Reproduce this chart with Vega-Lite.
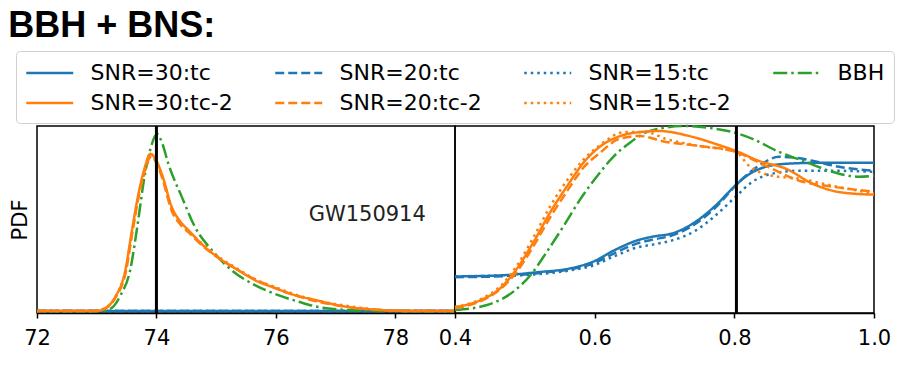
{
  "$schema": "https://vega.github.io/schema/vega-lite/v6.json",
  "padding": {"left": 8, "top": 7, "right": 5, "bottom": 5},
  "background": "white",
  "bounds": "flush",
  "title": {"text": "BBH + BNS:", "anchor": "start", "frame": "bounds", "font": "Liberation Sans", "fontSize": 36, "fontWeight": "bold", "color": "black", "offset": 6},
  "spacing": 0,
  "datasets": {
    "L": [
      {"s": "SNR=30:tc", "x": 72, "y": 0}, {"s": "SNR=30:tc", "x": 79, "y": 0},
      {"s": "SNR=20:tc", "x": 72, "y": 0}, {"s": "SNR=20:tc", "x": 79, "y": 0},
      {"s": "SNR=15:tc", "x": 72, "y": 0}, {"s": "SNR=15:tc", "x": 79, "y": 0},
      {"s": "BBH", "x": 72, "y": 0}, {"s": "BBH", "x": 73.1, "y": 0}, {"s": "BBH", "x": 73.25, "y": 3}, {"s": "BBH", "x": 73.4, "y": 16}, {"s": "BBH", "x": 73.56, "y": 41}, {"s": "BBH", "x": 73.68, "y": 85}, {"s": "BBH", "x": 73.8, "y": 135}, {"s": "BBH", "x": 73.9, "y": 163}, {"s": "BBH", "x": 74.01, "y": 178}, {"s": "BBH", "x": 74.1, "y": 168}, {"s": "BBH", "x": 74.2, "y": 148}, {"s": "BBH", "x": 74.43, "y": 114}, {"s": "BBH", "x": 74.65, "y": 84}, {"s": "BBH", "x": 74.93, "y": 61}, {"s": "BBH", "x": 75.26, "y": 41}, {"s": "BBH", "x": 75.65, "y": 26}, {"s": "BBH", "x": 76.04, "y": 16}, {"s": "BBH", "x": 76.4, "y": 9}, {"s": "BBH", "x": 76.71, "y": 4}, {"s": "BBH", "x": 77.2, "y": 1}, {"s": "BBH", "x": 77.6, "y": 0}, {"s": "BBH", "x": 79, "y": 0},
      {"s": "SNR=30:tc-2", "x": 72, "y": 0}, {"s": "SNR=30:tc-2", "x": 73.0, "y": 0}, {"s": "SNR=30:tc-2", "x": 73.15, "y": 3}, {"s": "SNR=30:tc-2", "x": 73.31, "y": 14}, {"s": "SNR=30:tc-2", "x": 73.48, "y": 41}, {"s": "SNR=30:tc-2", "x": 73.59, "y": 81}, {"s": "SNR=30:tc-2", "x": 73.7, "y": 118}, {"s": "SNR=30:tc-2", "x": 73.79, "y": 141}, {"s": "SNR=30:tc-2", "x": 73.9, "y": 158}, {"s": "SNR=30:tc-2", "x": 74.0, "y": 151}, {"s": "SNR=30:tc-2", "x": 74.1, "y": 136}, {"s": "SNR=30:tc-2", "x": 74.26, "y": 104}, {"s": "SNR=30:tc-2", "x": 74.4, "y": 90}, {"s": "SNR=30:tc-2", "x": 74.54, "y": 81}, {"s": "SNR=30:tc-2", "x": 74.82, "y": 64}, {"s": "SNR=30:tc-2", "x": 75.1, "y": 51}, {"s": "SNR=30:tc-2", "x": 75.37, "y": 41}, {"s": "SNR=30:tc-2", "x": 75.65, "y": 31}, {"s": "SNR=30:tc-2", "x": 75.99, "y": 23}, {"s": "SNR=30:tc-2", "x": 76.21, "y": 18}, {"s": "SNR=30:tc-2", "x": 76.66, "y": 11}, {"s": "SNR=30:tc-2", "x": 77.21, "y": 4}, {"s": "SNR=30:tc-2", "x": 77.77, "y": 1}, {"s": "SNR=30:tc-2", "x": 78.3, "y": 0}, {"s": "SNR=30:tc-2", "x": 79, "y": 0},
      {"s": "SNR=20:tc-2", "x": 72, "y": 0}, {"s": "SNR=20:tc-2", "x": 72.9, "y": 0}, {"s": "SNR=20:tc-2", "x": 73.12, "y": 2}, {"s": "SNR=20:tc-2", "x": 73.31, "y": 13}, {"s": "SNR=20:tc-2", "x": 73.49, "y": 40}, {"s": "SNR=20:tc-2", "x": 73.6, "y": 80}, {"s": "SNR=20:tc-2", "x": 73.71, "y": 117}, {"s": "SNR=20:tc-2", "x": 73.8, "y": 140}, {"s": "SNR=20:tc-2", "x": 73.91, "y": 155}, {"s": "SNR=20:tc-2", "x": 74.0, "y": 149}, {"s": "SNR=20:tc-2", "x": 74.1, "y": 133}, {"s": "SNR=20:tc-2", "x": 74.26, "y": 100}, {"s": "SNR=20:tc-2", "x": 74.4, "y": 87}, {"s": "SNR=20:tc-2", "x": 74.54, "y": 79}, {"s": "SNR=20:tc-2", "x": 74.82, "y": 63}, {"s": "SNR=20:tc-2", "x": 75.1, "y": 51}, {"s": "SNR=20:tc-2", "x": 75.37, "y": 41}, {"s": "SNR=20:tc-2", "x": 75.65, "y": 32}, {"s": "SNR=20:tc-2", "x": 75.99, "y": 23}, {"s": "SNR=20:tc-2", "x": 76.21, "y": 18}, {"s": "SNR=20:tc-2", "x": 76.66, "y": 10}, {"s": "SNR=20:tc-2", "x": 77.21, "y": 4}, {"s": "SNR=20:tc-2", "x": 77.77, "y": 1}, {"s": "SNR=20:tc-2", "x": 78.3, "y": 0}, {"s": "SNR=20:tc-2", "x": 79, "y": 0},
      {"s": "SNR=15:tc-2", "x": 72, "y": 0}, {"s": "SNR=15:tc-2", "x": 72.95, "y": 0}, {"s": "SNR=15:tc-2", "x": 73.14, "y": 3}, {"s": "SNR=15:tc-2", "x": 73.32, "y": 15}, {"s": "SNR=15:tc-2", "x": 73.49, "y": 42}, {"s": "SNR=15:tc-2", "x": 73.6, "y": 82}, {"s": "SNR=15:tc-2", "x": 73.71, "y": 118}, {"s": "SNR=15:tc-2", "x": 73.81, "y": 141}, {"s": "SNR=15:tc-2", "x": 73.92, "y": 156}, {"s": "SNR=15:tc-2", "x": 74.0, "y": 150}, {"s": "SNR=15:tc-2", "x": 74.1, "y": 135}, {"s": "SNR=15:tc-2", "x": 74.26, "y": 102}, {"s": "SNR=15:tc-2", "x": 74.4, "y": 89}, {"s": "SNR=15:tc-2", "x": 74.54, "y": 80}, {"s": "SNR=15:tc-2", "x": 74.82, "y": 65}, {"s": "SNR=15:tc-2", "x": 75.1, "y": 52}, {"s": "SNR=15:tc-2", "x": 75.37, "y": 42}, {"s": "SNR=15:tc-2", "x": 75.65, "y": 32}, {"s": "SNR=15:tc-2", "x": 75.99, "y": 24}, {"s": "SNR=15:tc-2", "x": 76.21, "y": 19}, {"s": "SNR=15:tc-2", "x": 76.66, "y": 11}, {"s": "SNR=15:tc-2", "x": 77.21, "y": 5}, {"s": "SNR=15:tc-2", "x": 77.77, "y": 1}, {"s": "SNR=15:tc-2", "x": 78.3, "y": 0}, {"s": "SNR=15:tc-2", "x": 79, "y": 0}
    ],
    "R": [
      {"s": "SNR=30:tc", "x": 0.4, "y": 34.7}, {"s": "SNR=30:tc", "x": 0.47, "y": 36}, {"s": "SNR=30:tc", "x": 0.518, "y": 39}, {"s": "SNR=30:tc", "x": 0.566, "y": 43}, {"s": "SNR=30:tc", "x": 0.599, "y": 50}, {"s": "SNR=30:tc", "x": 0.628, "y": 61}, {"s": "SNR=30:tc", "x": 0.661, "y": 71}, {"s": "SNR=30:tc", "x": 0.685, "y": 75}, {"s": "SNR=30:tc", "x": 0.711, "y": 78}, {"s": "SNR=30:tc", "x": 0.745, "y": 90}, {"s": "SNR=30:tc", "x": 0.773, "y": 106}, {"s": "SNR=30:tc", "x": 0.797, "y": 123}, {"s": "SNR=30:tc", "x": 0.816, "y": 135}, {"s": "SNR=30:tc", "x": 0.845, "y": 145}, {"s": "SNR=30:tc", "x": 0.874, "y": 148}, {"s": "SNR=30:tc", "x": 0.92, "y": 149}, {"s": "SNR=30:tc", "x": 1.0, "y": 149},
      {"s": "SNR=20:tc", "x": 0.4, "y": 34}, {"s": "SNR=20:tc", "x": 0.47, "y": 35}, {"s": "SNR=20:tc", "x": 0.518, "y": 38}, {"s": "SNR=20:tc", "x": 0.566, "y": 42}, {"s": "SNR=20:tc", "x": 0.599, "y": 48}, {"s": "SNR=20:tc", "x": 0.628, "y": 58}, {"s": "SNR=20:tc", "x": 0.661, "y": 68}, {"s": "SNR=20:tc", "x": 0.685, "y": 72}, {"s": "SNR=20:tc", "x": 0.711, "y": 76}, {"s": "SNR=20:tc", "x": 0.745, "y": 88}, {"s": "SNR=20:tc", "x": 0.773, "y": 104}, {"s": "SNR=20:tc", "x": 0.807, "y": 130}, {"s": "SNR=20:tc", "x": 0.835, "y": 146}, {"s": "SNR=20:tc", "x": 0.864, "y": 155}, {"s": "SNR=20:tc", "x": 0.89, "y": 154}, {"s": "SNR=20:tc", "x": 0.912, "y": 151}, {"s": "SNR=20:tc", "x": 0.95, "y": 145}, {"s": "SNR=20:tc", "x": 1.0, "y": 141},
      {"s": "SNR=15:tc", "x": 0.4, "y": 35}, {"s": "SNR=15:tc", "x": 0.47, "y": 35.5}, {"s": "SNR=15:tc", "x": 0.518, "y": 37}, {"s": "SNR=15:tc", "x": 0.566, "y": 41}, {"s": "SNR=15:tc", "x": 0.599, "y": 46}, {"s": "SNR=15:tc", "x": 0.628, "y": 55}, {"s": "SNR=15:tc", "x": 0.661, "y": 64}, {"s": "SNR=15:tc", "x": 0.685, "y": 67}, {"s": "SNR=15:tc", "x": 0.711, "y": 71}, {"s": "SNR=15:tc", "x": 0.745, "y": 81}, {"s": "SNR=15:tc", "x": 0.773, "y": 96}, {"s": "SNR=15:tc", "x": 0.802, "y": 115}, {"s": "SNR=15:tc", "x": 0.826, "y": 130}, {"s": "SNR=15:tc", "x": 0.854, "y": 138}, {"s": "SNR=15:tc", "x": 0.893, "y": 141}, {"s": "SNR=15:tc", "x": 0.94, "y": 141}, {"s": "SNR=15:tc", "x": 1.0, "y": 140},
      {"s": "BBH", "x": 0.4, "y": 1}, {"s": "BBH", "x": 0.446, "y": 6}, {"s": "BBH", "x": 0.4845, "y": 20}, {"s": "BBH", "x": 0.508, "y": 36}, {"s": "BBH", "x": 0.532, "y": 60}, {"s": "BBH", "x": 0.556, "y": 86}, {"s": "BBH", "x": 0.58, "y": 113}, {"s": "BBH", "x": 0.604, "y": 136}, {"s": "BBH", "x": 0.628, "y": 156}, {"s": "BBH", "x": 0.652, "y": 170}, {"s": "BBH", "x": 0.675, "y": 180}, {"s": "BBH", "x": 0.697, "y": 184}, {"s": "BBH", "x": 0.73, "y": 186}, {"s": "BBH", "x": 0.765, "y": 184}, {"s": "BBH", "x": 0.797, "y": 180}, {"s": "BBH", "x": 0.826, "y": 173}, {"s": "BBH", "x": 0.864, "y": 160}, {"s": "BBH", "x": 0.902, "y": 150}, {"s": "BBH", "x": 0.94, "y": 140}, {"s": "BBH", "x": 0.979, "y": 135}, {"s": "BBH", "x": 1.0, "y": 136},
      {"s": "SNR=30:tc-2", "x": 0.4, "y": 4}, {"s": "SNR=30:tc-2", "x": 0.437, "y": 11}, {"s": "SNR=30:tc-2", "x": 0.465, "y": 23}, {"s": "SNR=30:tc-2", "x": 0.489, "y": 43}, {"s": "SNR=30:tc-2", "x": 0.513, "y": 70}, {"s": "SNR=30:tc-2", "x": 0.537, "y": 100}, {"s": "SNR=30:tc-2", "x": 0.561, "y": 126}, {"s": "SNR=30:tc-2", "x": 0.585, "y": 150}, {"s": "SNR=30:tc-2", "x": 0.609, "y": 166}, {"s": "SNR=30:tc-2", "x": 0.637, "y": 176}, {"s": "SNR=30:tc-2", "x": 0.666, "y": 180}, {"s": "SNR=30:tc-2", "x": 0.692, "y": 181}, {"s": "SNR=30:tc-2", "x": 0.735, "y": 176}, {"s": "SNR=30:tc-2", "x": 0.773, "y": 168}, {"s": "SNR=30:tc-2", "x": 0.802, "y": 161}, {"s": "SNR=30:tc-2", "x": 0.835, "y": 151}, {"s": "SNR=30:tc-2", "x": 0.874, "y": 143}, {"s": "SNR=30:tc-2", "x": 0.912, "y": 128}, {"s": "SNR=30:tc-2", "x": 0.94, "y": 121}, {"s": "SNR=30:tc-2", "x": 0.97, "y": 118}, {"s": "SNR=30:tc-2", "x": 1.0, "y": 117},
      {"s": "SNR=20:tc-2", "x": 0.4, "y": 3}, {"s": "SNR=20:tc-2", "x": 0.437, "y": 10}, {"s": "SNR=20:tc-2", "x": 0.465, "y": 22}, {"s": "SNR=20:tc-2", "x": 0.489, "y": 40}, {"s": "SNR=20:tc-2", "x": 0.513, "y": 66}, {"s": "SNR=20:tc-2", "x": 0.537, "y": 95}, {"s": "SNR=20:tc-2", "x": 0.561, "y": 121}, {"s": "SNR=20:tc-2", "x": 0.585, "y": 145}, {"s": "SNR=20:tc-2", "x": 0.606, "y": 158}, {"s": "SNR=20:tc-2", "x": 0.635, "y": 173}, {"s": "SNR=20:tc-2", "x": 0.664, "y": 176}, {"s": "SNR=20:tc-2", "x": 0.702, "y": 170}, {"s": "SNR=20:tc-2", "x": 0.749, "y": 166}, {"s": "SNR=20:tc-2", "x": 0.802, "y": 160}, {"s": "SNR=20:tc-2", "x": 0.845, "y": 146}, {"s": "SNR=20:tc-2", "x": 0.893, "y": 131}, {"s": "SNR=20:tc-2", "x": 0.94, "y": 125}, {"s": "SNR=20:tc-2", "x": 1.0, "y": 120},
      {"s": "SNR=15:tc-2", "x": 0.4, "y": 4}, {"s": "SNR=15:tc-2", "x": 0.437, "y": 12}, {"s": "SNR=15:tc-2", "x": 0.465, "y": 25}, {"s": "SNR=15:tc-2", "x": 0.489, "y": 46}, {"s": "SNR=15:tc-2", "x": 0.513, "y": 75}, {"s": "SNR=15:tc-2", "x": 0.537, "y": 106}, {"s": "SNR=15:tc-2", "x": 0.561, "y": 132}, {"s": "SNR=15:tc-2", "x": 0.585, "y": 153}, {"s": "SNR=15:tc-2", "x": 0.606, "y": 166}, {"s": "SNR=15:tc-2", "x": 0.644, "y": 180}, {"s": "SNR=15:tc-2", "x": 0.673, "y": 180}, {"s": "SNR=15:tc-2", "x": 0.702, "y": 173}, {"s": "SNR=15:tc-2", "x": 0.749, "y": 166}, {"s": "SNR=15:tc-2", "x": 0.802, "y": 160}, {"s": "SNR=15:tc-2", "x": 0.821, "y": 146}, {"s": "SNR=15:tc-2", "x": 0.854, "y": 136}, {"s": "SNR=15:tc-2", "x": 0.893, "y": 133}, {"s": "SNR=15:tc-2", "x": 0.94, "y": 126}, {"s": "SNR=15:tc-2", "x": 1.0, "y": 118}
    ],
    "VL": [{"x": 74}],
    "VR": [{"x": 0.803}],
    "LAB": [{"x": 77.53, "y": 97, "t": "GW150914"}]
  },
  "hconcat": [
    {
      "width": 418,
      "height": 187,
      "layer": [
        {
          "data": {"name": "L"},
          "mark": {"type": "line", "strokeWidth": 2.5, "interpolate": "monotone"},
          "encoding": {
            "x": {"field": "x", "type": "quantitative", "scale": {"domain": [72, 79], "nice": false, "zero": false}, "axis": {"values": [72, 74, 76, 78], "format": "d", "title": null}},
            "y": {"field": "y", "type": "quantitative", "scale": {"domain": [-2, 186], "nice": false}, "axis": {"title": "PDF", "labels": false, "ticks": false, "domain": false, "titlePadding": 7}},
            "color": {"field": "s", "type": "nominal",
              "scale": {"domain": ["SNR=30:tc", "SNR=30:tc-2", "SNR=20:tc", "SNR=20:tc-2", "SNR=15:tc", "SNR=15:tc-2", "BBH"],
                        "range": ["#1f77b4", "#ff7f0e", "#1f77b4", "#ff7f0e", "#1f77b4", "#ff7f0e", "#2ca02c"]},
              "legend": {"orient": "none", "legendX": -21, "legendY": -75, "columns": 4, "columnPadding": 37, "rowPadding": 6, "title": null,
                         "symbolType": "M-1,0L3,0", "symbolSize": 552, "symbolStrokeWidth": 2.5, "symbolFillColor": "transparent", "labelFontSize": 22, "labelFont": "DejaVu Sans", "labelColor": "black", "labelOffset": 39.5,
                         "padding": 9, "strokeColor": "#d0d0d0", "fillColor": "white", "cornerRadius": 4}},
            "strokeDash": {"field": "s", "type": "nominal",
              "scale": {"domain": ["SNR=30:tc", "SNR=30:tc-2", "SNR=20:tc", "SNR=20:tc-2", "SNR=15:tc", "SNR=15:tc-2", "BBH"],
                        "range": [[1, 0], [1, 0], [9, 4], [9, 4], [2.5, 4], [2.5, 4], [14, 4, 2.5, 4]]}}
          }
        },
        {"data": {"name": "VL"}, "mark": {"type": "rule", "color": "black", "strokeWidth": 3}, "encoding": {"x": {"field": "x", "type": "quantitative"}}},
        {"data": {"name": "LAB"}, "mark": {"type": "text", "font": "DejaVu Sans", "fontSize": 21, "color": "#222"}, "encoding": {"x": {"field": "x", "type": "quantitative"}, "y": {"field": "y", "type": "quantitative"}, "text": {"field": "t"}}}
      ]
    },
    {
      "width": 419,
      "height": 187,
      "layer": [
        {
          "data": {"name": "R"},
          "mark": {"type": "line", "strokeWidth": 2.5, "interpolate": "monotone"},
          "encoding": {
            "x": {"field": "x", "type": "quantitative", "scale": {"domain": [0.4, 1.0], "nice": false, "zero": false}, "axis": {"values": [0.4, 0.6, 0.8, 1.0], "format": ".1f", "title": null}},
            "y": {"field": "y", "type": "quantitative", "scale": {"domain": [-2, 186], "nice": false}, "axis": null},
            "color": {"field": "s", "type": "nominal"},
            "strokeDash": {"field": "s", "type": "nominal"}
          }
        },
        {"data": {"name": "VR"}, "mark": {"type": "rule", "color": "black", "strokeWidth": 3}, "encoding": {"x": {"field": "x", "type": "quantitative"}}}
      ]
    }
  ],
  "resolve": {"scale": {"x": "independent", "y": "independent", "color": "shared", "strokeDash": "shared"}},
  "config": {
    "font": "DejaVu Sans",
    "view": {"stroke": "black", "strokeWidth": 1.5},
    "axis": {"labelFont": "DejaVu Sans", "labelFontSize": 21, "labelColor": "black", "titleFont": "DejaVu Sans", "titleFontSize": 21, "titleFontWeight": "normal", "titleColor": "black",
             "tickColor": "black", "tickWidth": 1.5, "tickSize": 5, "domainColor": "black", "domainWidth": 1.5, "grid": false, "labelFlush": false, "labelOverlap": false, "labelPadding": 9}
  }
}
